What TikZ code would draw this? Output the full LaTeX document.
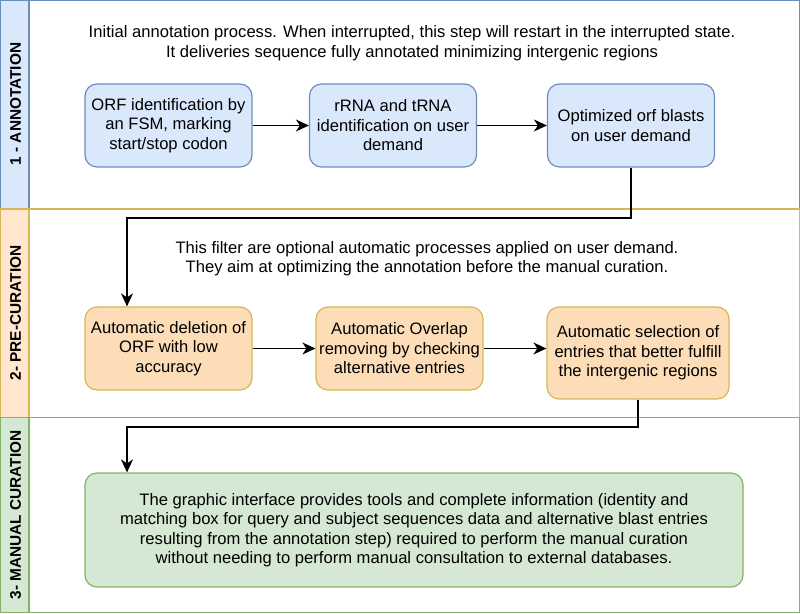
\documentclass[tikz,border=0pt]{standalone}
\usepackage{fontspec}
\setmainfont{Liberation Sans}
\usetikzlibrary{arrows.meta}

\definecolor{bluefill}{HTML}{DAE8FC}
\definecolor{bluedraw}{HTML}{6C8EBF}
\definecolor{orangefill}{HTML}{FFE6CC}
\definecolor{orangebox}{HTML}{FCDDB8}
\definecolor{orangedraw}{HTML}{D6B656}
\definecolor{greenfill}{HTML}{D5E8D4}
\definecolor{greendraw}{HTML}{82B366}

\begin{document}
\begin{tikzpicture}[x=1pt, y=-1pt,
        box/.style={draw, rounded corners=12pt, line width=1.2pt, align=center,
                    font=\fontsize{16.6}{19.5}\selectfont, inner sep=0pt},
        blue/.style={box, fill=bluefill, draw=bluedraw, minimum width=167pt, minimum height=83pt},
        orange/.style={box, fill=orangebox, draw=orangedraw, minimum width=167pt, minimum height=83pt},
        lane/.style={line width=1.3pt},
        lanetitle/.style={rotate=90, font=\fontsize{15.4}{18}\bfseries},
        note/.style={align=center, font=\fontsize{16.6}{19.5}\selectfont},
        arr/.style={line width=1.5pt, -{Stealth[length=13pt, width=12pt, inset=4pt]}}]
        \useasboundingbox (0,0) rectangle (800,613);

        % swimlanes
        \draw[lane, draw=bluedraw] (0.7,0.7) rectangle (799.3,209);
        \draw[lane, draw=bluedraw, fill=bluefill] (0.7,0.7) rectangle (29,209);
        \draw[lane, draw=orangedraw] (0.7,209) rectangle (799.3,417.5);
        \draw[lane, draw=orangedraw, fill=orangefill] (0.7,209) rectangle (29,417.5);
        \draw[lane, draw=greendraw] (0.7,417.5) rectangle (799.3,612.3);
        \draw[lane, draw=greendraw, fill=greenfill] (0.7,417.5) rectangle (29,612.3);

        \node[lanetitle] (t1) at (15.5,104) {1 - ANNOTATION};
        \node[lanetitle] (t2) at (15.5,313) {2- PRE-CURATION};
        \node[lanetitle] (t3) at (15.5,515) {3- MANUAL CURATION};

        % 1 - annotation
        \node[note] (n1) at (412,43) {Initial annotation process. When interrupted, this step will restart in the interrupted state.\\
            It deliveries sequence fully annotated minimizing intergenic regions};
        \node[blue] (a1) at (168.5,125.5) {ORF identification by\\an FSM, marking\\start/stop codon};
        \node[blue] (a2) at (393,125.5) {rRNA and tRNA\\identification on user\\demand};
        \node[blue] (a3) at (631,125.5) {Optimized orf blasts\\on user demand};

        % 2 - pre-curation
        \node[note] (n2) at (427,258.5) {This filter are optional automatic processes applied on user demand.\\
            They aim at optimizing the annotation before the manual curation.};
        \node[orange] (p1) at (168.5,348.5) {Automatic deletion of\\ORF with low\\accuracy};
        \node[orange] (p2) at (399.5,348.5) {Automatic Overlap\\removing by checking\\alternative entries};
        \node[orange, minimum width=182pt, minimum height=92pt] (p3) at (638,353) {Automatic selection of\\entries that better fulfill\\the intergenic regions};

        % 3 - manual curation
        \node[box, fill=greenfill, draw=greendraw, minimum width=658pt, minimum height=114pt] (m1) at (414,530)
            {The graphic interface provides tools and complete information (identity and\\
            matching box for query and subject sequences data and alternative blast entries\\
            resulting from the annotation step) required to perform the manual curation\\
            without needing to perform manual consultation to external databases.};

        \coordinate (c1) at (127,218);
        \coordinate (c2) at (127,427);

        \draw[arr] (a1) -- (a2);
        \draw[arr] (a2) -- (a3);
        \draw[arr] (a3.south) |- (c1) -- (p1.north -| c1);
        \draw[arr] (p1) -- (p2);
        \draw[arr] (p2.east) -- (p2.east -| p3.west);
        \draw[arr] (p3.south) |- (c2) -- (m1.north -| c2);
    \end{tikzpicture}
\end{document}
